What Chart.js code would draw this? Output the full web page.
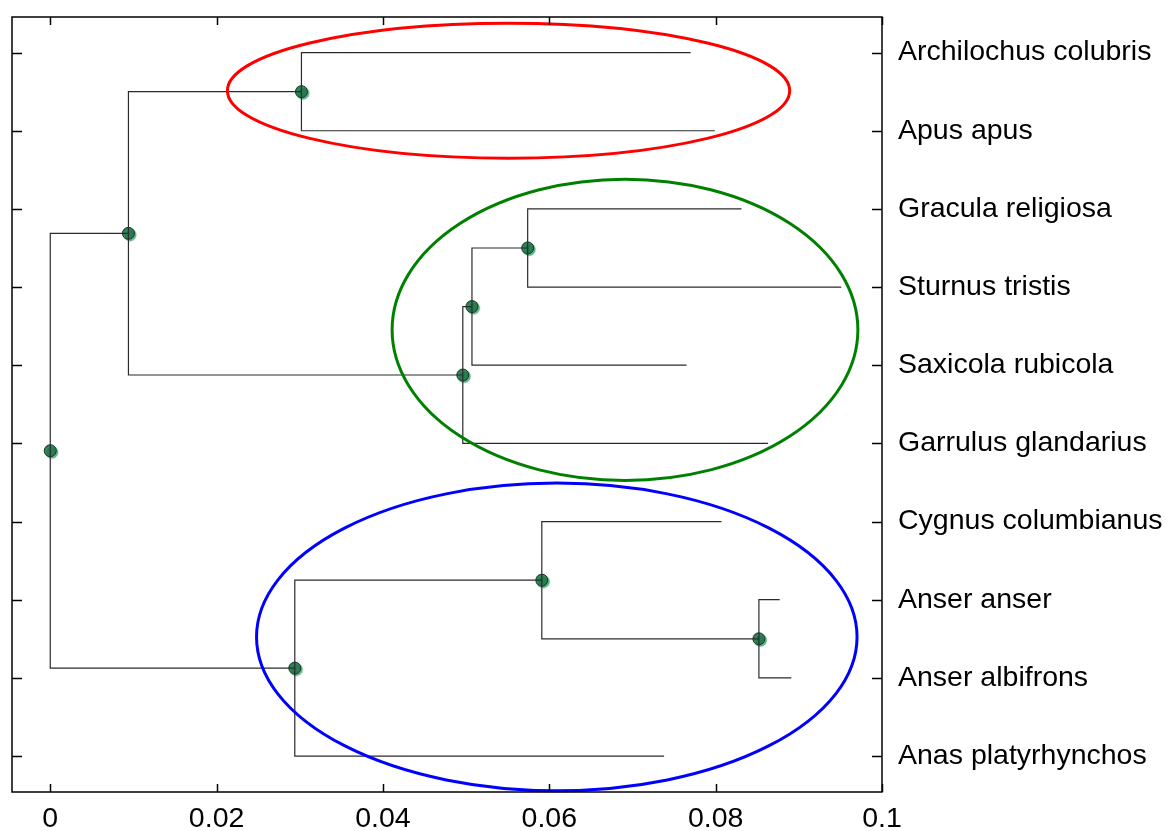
<!DOCTYPE html>
<html>
<head>
<meta charset="utf-8">
<title>Dendrogram</title>
<script src="https://cdn.jsdelivr.net/npm/chart.js@4.4.1/dist/chart.umd.min.js"></script>
<style>
    body { margin: 0; background: #fff; }
</style>
</head>
<body>
<canvas id="js--tree" width="1170" height="831"></canvas>
<script>
// species on the leaves, top to bottom
const leaves = [
    "Archilochus colubris",
    "Apus apus",
    "Gracula religiosa",
    "Sturnus tristis",
    "Saxicola rubicola",
    "Garrulus glandarius",
    "Cygnus columbianus",
    "Anser anser",
    "Anser albifrons",
    "Anas platyrhynchos",
];

// where each leaf branch ends
const leafEnds = [0.0770, 0.0799, 0.0831, 0.0951, 0.0765, 0.0863, 0.0807, 0.0877, 0.0891, 0.0738];

// joins: two children each (0-9 are leaves, 10 and up are earlier joins)
const joins = [[7, 8], [6, 10], [11, 9], [2, 3], [13, 4], [14, 5], [0, 1], [16, 15], [17, 12]];
const joinHeights = [0.0852, 0.0591, 0.0294, 0.0574, 0.0507, 0.0496, 0.0302, 0.0094, 0];

const xTicks = [0, 0.02, 0.04, 0.06, 0.08, 0.1];

// rings round the groups: centre x, centre leaf, half width, half height (in leaves)
const ringCentreX = [0.0551, 0.0691, 0.0609];
const ringCentreY = [1.488, 4.547, 8.476];
const ringRadiusX = [0.0338, 0.0280, 0.0361];
const ringRadiusY = [0.863, 1.927, 1.968];
const ringColors = ["#ff0000", "#008000", "#0000ff"];

// x and y of every node, leaves first
var nodeX = leafEnds.slice();
var nodeY = leaves.map(function (name, i) { return i + 1; });
var parent = [];

joins.forEach(function (pair, k) {
    var id = leaves.length + k;
    nodeX[id] = joinHeights[k];
    nodeY[id] = (nodeY[pair[0]] + nodeY[pair[1]]) / 2;
    parent[pair[0]] = id;
    parent[pair[1]] = id;
});

// one elbow per child: down/up from the join, then across to the child
var datasets = [];
for (var id = 0; id < nodeX.length; id++) {
    var p = parent[id];
    if (p === undefined) continue;
    datasets.push({
        type: "line",
        data: [
            {x: nodeX[p], y: nodeY[p]},
            {x: nodeX[p], y: nodeY[id]},
            {x: nodeX[id], y: nodeY[id]},
        ],
        borderColor: "#2b2b2b",
        borderWidth: 1.2,
        pointRadius: 0,
        fill: false,
        tension: 0,
    });
}

// green dots on the joins
var dotIndex = datasets.length;
datasets.push({
    type: "scatter",
    data: joins.map(function (pair, k) {
        var id = leaves.length + k;
        return {x: nodeX[id], y: nodeY[id]};
    }),
    pointRadius: 6,
    pointBackgroundColor: "#2a7a52",
    pointBorderColor: "#163826",
    pointBorderWidth: 1,
});

const fontFamily = "Arial, 'Liberation Sans', sans-serif";

// soft light green shadow under the dots
const dotShadow = {
    id: "dotShadow",
    beforeDatasetDraw(chart, args) {
        if (args.index !== dotIndex) return;
        var ctx = chart.ctx;
        ctx.save();
        ctx.shadowColor = "rgba(60, 160, 110, 0.8)";
        ctx.shadowOffsetX = 1.5;
        ctx.shadowOffsetY = 1.5;
        ctx.shadowBlur = 1;
    },
    afterDatasetDraw(chart, args) {
        if (args.index !== dotIndex) return;
        chart.ctx.restore();
    }
};

// box round the plot with short ticks pointing inwards, plus the rings
const frame = {
    id: "frame",
    afterDatasetsDraw(chart) {
        var ctx = chart.ctx;
        var a = chart.chartArea;
        var xs = chart.scales.x;
        var ys = chart.scales.y;

        ctx.save();
        ctx.lineWidth = 3;
        for (var i = 0; i < ringCentreX.length; i++) {
            var cx = xs.getPixelForValue(ringCentreX[i]);
            var cy = ys.getPixelForValue(ringCentreY[i]);
            var rx = xs.getPixelForValue(ringCentreX[i] + ringRadiusX[i]) - cx;
            var ry = Math.abs(ys.getPixelForValue(ringCentreY[i] + ringRadiusY[i]) - cy);
            ctx.strokeStyle = ringColors[i];
            ctx.beginPath();
            ctx.ellipse(cx, cy, rx, ry, 0, 0, Math.PI * 2);
            ctx.stroke();
        }

        ctx.strokeStyle = "#000";
        ctx.lineWidth = 1.5;
        ctx.strokeRect(a.left, a.top, a.right - a.left, a.bottom - a.top);

        ctx.beginPath();
        xTicks.forEach(function (v) {
            var px = Math.round(xs.getPixelForValue(v)) + 0.5;
            ctx.moveTo(px, a.top);
            ctx.lineTo(px, a.top + 8);
            ctx.moveTo(px, a.bottom);
            ctx.lineTo(px, a.bottom - 8);
        });
        leaves.forEach(function (name, i) {
            var py = Math.round(ys.getPixelForValue(i + 1)) + 0.5;
            ctx.moveTo(a.left, py);
            ctx.lineTo(a.left + 10, py);
            ctx.moveTo(a.right, py);
            ctx.lineTo(a.right - 10, py);
        });
        ctx.stroke();
        ctx.restore();
    }
};

new Chart(document.getElementById("js--tree"), {
    type: "scatter",
    data: { datasets: datasets },
    options: {
        responsive: false,
        animation: false,
        layout: { padding: { left: 12, top: 0, right: 0, bottom: 0 } },
        plugins: {
            legend: { display: false },
            tooltip: { enabled: false },
        },
        scales: {
            x: {
                type: "linear",
                min: -0.0046,
                max: 0.1,
                grid: { display: false, drawTicks: false },
                border: { display: false },
                afterBuildTicks: function (scale) {
                    scale.ticks = xTicks.map(function (v) { return {value: v}; });
                },
                afterFit: function (scale) {
                    scale.height = 39;
                    scale.paddingLeft = 0;
                    scale.paddingRight = 0;
                },
                ticks: {
                    padding: 13,
                    color: "#000",
                    font: { family: fontFamily, size: 28.5, lineHeight: 1 },
                    maxRotation: 0,
                    callback: function (v) { return String(v); },
                },
            },
            y: {
                type: "linear",
                position: "right",
                reverse: true,
                min: 0.545,
                max: 10.46,
                grid: { display: false, drawTicks: false },
                border: { display: false },
                afterBuildTicks: function (scale) {
                    scale.ticks = leaves.map(function (name, i) { return {value: i + 1}; });
                },
                afterFit: function (scale) {
                    scale.width = 288;
                    scale.paddingTop = 17;
                    scale.paddingBottom = 0;
                },
                ticks: {
                    padding: 16,
                    color: "#000",
                    font: { family: fontFamily, size: 28.5, lineHeight: 1.2 },
                    callback: function (v) { return leaves[v - 1]; },
                },
            },
        },
    },
    plugins: [dotShadow, frame],
});
</script>
</body>
</html>
